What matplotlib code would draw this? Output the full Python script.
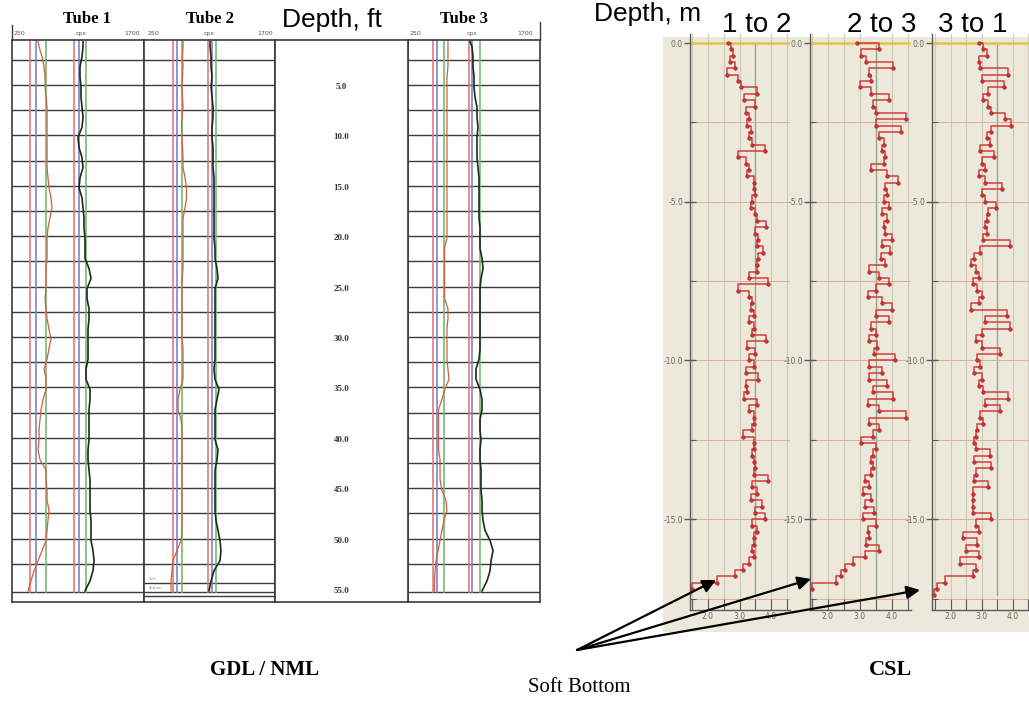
import numpy as np
import matplotlib
matplotlib.use('Agg')
from matplotlib import pyplot as plt
from matplotlib.ticker import FixedLocator, NullFormatter

W, H = 1029, 708

# ---------------- GDL / NML logs (depth in ft, counts in cps) ----------------
LOG_DEPTH_FT = [0.5] + list(range(1, 56))

TUBE1_RED = [536, 547, 580, 602, 613, 613, 624, 635, 635, 635,
             635, 635, 635, 635, 645, 656, 678, 689, 667, 645,
             635, 635, 635, 624, 624, 624, 613, 624, 635, 656,
             678, 656, 635, 602, 624, 624, 591, 569, 558, 547,
             547, 536, 558, 624, 624, 635, 635, 656, 645, 635,
             624, 580, 536, 492, 459, 426]
TUBE1_BLACK = [1030, 1030, 1019, 997, 997, 1008, 1008, 1019, 1030, 1019,
               975, 986, 1019, 1030, 997, 986, 1019, 1030, 1041, 1041,
               1052, 1052, 1052, 1096, 1118, 1074, 1074, 1096, 1096, 1085,
               1085, 1085, 1085, 1063, 1063, 1107, 1107, 1096, 1096, 1096,
               1096, 1085, 1085, 1096, 1107, 1107, 1107, 1107, 1118, 1118,
               1118, 1140, 1151, 1140, 1107, 1052]
TUBE2_RED = [682, 682, 676, 682, 676, 671, 676, 682, 671, 665,
             671, 676, 682, 682, 704, 720, 720, 704, 682, 682,
             682, 682, 682, 682, 671, 671, 671, 671, 671, 671,
             671, 682, 682, 682, 682, 649, 626, 626, 660, 671,
             671, 671, 671, 671, 671, 671, 671, 671, 671, 671,
             660, 615, 571, 560, 549, 549]
TUBE2_BLACK = [981, 981, 992, 992, 1003, 992, 1003, 1014, 1014, 1003,
               1003, 1014, 1014, 1014, 1025, 1025, 1025, 1025, 1025, 1025,
               1025, 1036, 1036, 1058, 1069, 1036, 1036, 1036, 1036, 1036,
               1036, 1036, 1036, 1025, 1036, 1080, 1058, 1036, 1036, 1036,
               1036, 1069, 1058, 1036, 1036, 1036, 1036, 1036, 1047, 1069,
               1091, 1102, 1091, 1025, 992, 970]
TUBE3_RED = [689, 689, 689, 689, 678, 678, 678, 678, 678, 678,
             678, 678, 678, 678, 678, 678, 678, 678, 678, 678,
             678, 651, 651, 651, 651, 651, 651, 689, 689, 678,
             678, 678, 678, 689, 700, 656, 623, 585, 585, 585,
             585, 585, 602, 602, 602, 623, 667, 678, 645, 623,
             602, 580, 558, 547, 541, 541]
TUBE3_BLACK = [931, 953, 964, 964, 975, 975, 986, 1008, 1008, 1019,
               1008, 1008, 1008, 1019, 1030, 1030, 1030, 1030, 1030, 1041,
               1041, 1041, 1063, 1074, 1052, 1041, 1041, 1041, 1041, 1041,
               1041, 1041, 1030, 997, 997, 1041, 1063, 1063, 1041, 1041,
               1052, 1041, 1041, 1052, 1052, 1052, 1063, 1063, 1074, 1096,
               1151, 1184, 1162, 1151, 1118, 1063]

# reference lines: red, blue, green (low), red, blue, green (high)
TUBE1_REF = [448, 510, 620, 931, 986, 1060]
TUBE2_REF = [568, 612, 674, 958, 1002, 1050]
TUBE3_REF = [528, 572, 645, 920, 950, 1041]
REF_COLORS = ['#e07a7a', '#7a86c8', '#78b878'] * 2

DEPTH_LABELS_FT = [5, 10, 15, 20, 25, 30, 35, 40, 45, 50, 55]

# ---------------- CSL profiles (depth in m, FAT) ----------------
CSL_1_TO_2 = [2.65, 2.72, 2.80, 2.70, 2.85, 2.60, 2.95, 3.05, 3.55, 3.15,
              3.50, 3.20, 3.30, 3.25, 3.35, 3.30, 3.40, 3.80, 2.95, 3.20,
              3.30, 3.25, 3.45, 3.45, 3.50, 3.40, 3.35, 3.50, 3.55, 3.85,
              3.50, 3.60, 3.55, 3.75, 3.60, 3.55, 3.55, 3.30, 3.90, 2.95,
              3.30, 3.40, 3.35, 3.45, 3.30, 3.45, 3.40, 3.85, 3.25, 3.50,
              3.30, 3.45, 3.20, 3.60, 3.20, 3.25, 3.15, 3.55, 3.30, 3.45,
              3.45, 3.40, 3.10, 3.45, 3.45, 3.40, 3.45, 3.50, 3.45, 3.90,
              3.40, 3.55, 3.35, 3.70, 3.50, 3.80, 3.40, 3.55, 3.45, 3.45,
              3.40, 3.45, 3.30, 3.10, 2.85, 2.30, 1.50]
CSL_2_TO_3 = [2.90, 3.60, 3.05, 3.20, 4.05, 3.30, 3.35, 3.00, 3.35, 3.90,
              3.40, 3.50, 4.45, 3.50, 4.30, 3.60, 3.75, 3.70, 3.80, 3.75,
              3.35, 3.85, 4.20, 3.80, 3.85, 3.75, 3.90, 3.70, 3.85, 3.75,
              3.80, 4.00, 3.70, 3.95, 3.65, 3.80, 3.30, 3.60, 3.90, 3.50,
              3.25, 3.70, 4.00, 3.50, 3.90, 3.35, 3.50, 3.30, 3.55, 3.45,
              4.10, 3.30, 3.70, 3.30, 3.85, 3.40, 4.05, 3.25, 3.60, 4.45,
              3.30, 3.60, 3.40, 3.05, 3.50, 3.40, 3.35, 3.40, 3.35, 3.15,
              3.30, 3.10, 3.35, 3.15, 3.45, 3.10, 3.50, 3.25, 3.30, 3.20,
              3.60, 3.15, 2.80, 2.55, 2.40, 2.25, 1.50]
CSL_3_TO_1 = [2.90, 3.05, 3.15, 2.90, 2.95, 3.85, 3.00, 3.70, 3.20, 3.05,
              3.20, 3.30, 3.75, 3.95, 3.30, 3.15, 3.25, 2.95, 3.40, 3.00,
              3.10, 2.90, 3.10, 3.65, 3.00, 3.10, 3.45, 3.20, 3.15, 3.10,
              3.15, 3.05, 3.90, 2.95, 2.75, 2.65, 2.80, 2.90, 2.70, 2.85,
              3.00, 2.90, 2.65, 3.80, 3.10, 3.90, 3.00, 2.80, 3.00, 3.60,
              2.85, 2.95, 2.75, 3.00, 2.90, 3.05, 3.85, 3.10, 3.60, 2.95,
              3.05, 2.85, 2.80, 2.75, 2.80, 3.25, 2.75, 3.30, 2.80, 2.75,
              3.20, 2.72, 2.72, 2.72, 2.72, 3.30, 2.80, 2.90, 2.40, 2.85,
              2.50, 2.90, 2.30, 2.80, 2.70, 1.80, 1.55, 1.45]
CSL_STEP_M = 0.2
CSL_NAMES = ['1 to 2', '2 to 3', '3 to 1']

SERIF = 'Liberation Serif'
SANS = 'Liberation Sans'

fig = plt.figure(figsize=(W / 100, H / 100), dpi=100)
fig.patch.set_facecolor('white')


def px_axes(x0, y0, x1, y1, **kw):
    return fig.add_axes([x0 / W, 1 - y1 / H, (x1 - x0) / W, (y1 - y0) / H], **kw)


def bare(ax, color='#3a3a3a', lw=1.2):
    ax.set_xticks([])
    ax.set_yticks([])
    for s in ax.spines.values():
        s.set_color(color)
        s.set_linewidth(lw)


# ---------------- left block: GDL / NML ----------------
DEPTH_TOP, DEPTH_BOT = 0.34, 56.1
GRID_FT = list(np.arange(2.3, 53, 2.5)) + [55.1]


def draw_tube(x0, x1, ref, red, black, extra=()):
    ax = px_axes(x0, 40, x1, 602)
    ax.set_xlim(250, 1700)
    ax.set_ylim(DEPTH_BOT, DEPTH_TOP)
    for d in GRID_FT + list(extra):
        ax.axhline(d, color='#3a3a3a', lw=1.0)
    for v, c in zip(ref, REF_COLORS):
        ax.plot([v, v], [DEPTH_TOP, 55.1], color=c, lw=1.2)
    ax.plot(red, LOG_DEPTH_FT, color='#cf5f3a', lw=0.9)
    ax.plot(black, LOG_DEPTH_FT, color='#1c2a1c', lw=1.2)
    bare(ax)
    return ax


draw_tube(12, 144, TUBE1_REF, TUBE1_RED, TUBE1_BLACK)
ax2 = draw_tube(144, 275, TUBE2_REF, TUBE2_RED, TUBE2_BLACK, extra=(54.2, 55.5))
ax2.text(300, 54.0, 'Soft', fontsize=2.5, color='#888', va='bottom')
ax2.text(300, 54.9, 'Bottom', fontsize=2.5, color='#888', va='bottom')
draw_tube(408, 540, TUBE3_REF, TUBE3_RED, TUBE3_BLACK)

axd = px_axes(275, 40, 408, 602)
axd.set_xlim(0, 1)
axd.set_ylim(DEPTH_BOT, DEPTH_TOP)
for d in DEPTH_LABELS_FT:
    axd.text(0.5, d, f'{d:.1f}', ha='center', va='center', fontsize=6.5,
             fontweight='bold', family=SERIF, color='#333')
bare(axd)

# ---------------- right block: CSL ----------------
bg = px_axes(663, 37, 1029, 632)
bg.set_facecolor('#ece9db')
bare(bg)
for s in bg.spines.values():
    s.set_visible(False)

CSL_TRACKS = [(690, 790, 1.43, 4.6), (810, 911, 1.44, 4.6), (932, 1029, 1.39, 4.52)]
for (x0, x1, lo, hi), vals in zip(CSL_TRACKS, [CSL_1_TO_2, CSL_2_TO_3, CSL_3_TO_1]):
    ax = px_axes(x0, 33.5, x1, 609.7)
    ax.set_facecolor('none')
    ax.set_xlim(lo, hi)
    ax.set_ylim(-17.85, 0.3)
    depth = -CSL_STEP_M * np.arange(len(vals))
    for g in np.arange(1.5, 4.6, 0.5):
        if abs(g - 3.5) < 1e-6:
            ax.plot([g, g], [0, -17.4], color='#8fa88f', lw=1.0, zorder=1)
        else:
            ax.axvline(g, color='#cdc8b8', lw=0.8, zorder=1)
    for r in np.arange(-2.5, -18, -2.5):
        ax.axhline(r, color='#e3a6a0', lw=0.7, zorder=1)
    ax.axhline(0, color='#e6c34a', lw=1.8, zorder=2)
    ax.plot(vals, depth, drawstyle='steps-post', color='#d43c3c', lw=1.1, zorder=3)
    ax.plot(vals, depth, 'o', ms=2.6, mfc='#cc3434', mec='#a82222', mew=0.4, zorder=4)
    for side in ('top', 'right'):
        ax.spines[side].set_visible(False)
    for side in ('left', 'bottom'):
        ax.spines[side].set_color('#5a5a5a')
        ax.spines[side].set_linewidth(1.0)
    ax.yaxis.set_major_locator(FixedLocator([0, -5, -10, -15]))
    ax.yaxis.set_minor_locator(FixedLocator([-2.5, -7.5, -12.5, -17.5]))
    ax.set_yticklabels(['0.0', '-5.0', '-10.0', '-15.0'])
    ax.xaxis.set_major_locator(FixedLocator([2.0, 3.0, 4.0]))
    ax.xaxis.set_minor_locator(FixedLocator([1.5, 2.5, 3.5, 4.5]))
    ax.xaxis.set_minor_formatter(NullFormatter())
    ax.set_xticklabels(['2.0', '3.0', '4.0'])
    ax.tick_params(axis='y', which='major', direction='inout', length=8,
                   width=1, color='#5a5a5a', labelsize=5.5, labelcolor='#666', pad=1)
    ax.tick_params(axis='y', which='minor', direction='in', length=4,
                   width=0.8, color='#5a5a5a')
    ax.tick_params(axis='x', which='both', direction='in', length=8,
                   width=0.8, color='#5a5a5a', labelsize=5.5, labelcolor='#666', pad=2)

# ---------------- texts and arrows ----------------
ov = px_axes(0, 0, W, H)
ov.set_xlim(0, W)
ov.set_ylim(H, 0)
ov.axis('off')

for x, name in [(87, 'Tube 1'), (210, 'Tube 2'), (464, 'Tube 3')]:
    ov.text(x, 23, name, ha='center', va='baseline', fontsize=12,
            fontweight='bold', family=SERIF)
for x250, xcps, x1700 in [(13, 81, 140), (148, 209, 273), (410, 472, 533)]:
    ov.text(x250, 33.5, '250', ha='left', va='center', fontsize=4.5, color='#555')
    ov.text(xcps, 33.5, 'cps', ha='center', va='center', fontsize=4.5, color='#555')
    ov.text(x1700, 33.5, '1700', ha='right', va='center', fontsize=4.5, color='#555')
ov.plot([12, 12], [25, 40], color='#3a3a3a', lw=1.0)
ov.plot([540, 540], [22, 40], color='#3a3a3a', lw=1.0)

ov.text(282, 27, 'Depth, ft', ha='left', va='baseline', fontsize=19, family=SANS)
ov.text(594, 21, 'Depth, m', ha='left', va='baseline', fontsize=19, family=SANS)
for x, name in zip([722, 847, 938], CSL_NAMES):
    ov.text(x, 32, name, ha='left', va='baseline', fontsize=20, family=SANS)

ov.text(265, 675, 'GDL / NML', ha='center', va='baseline', fontsize=15,
        fontweight='bold', family=SERIF)
ov.text(891, 675, 'CSL', ha='center', va='baseline', fontsize=16,
        fontweight='bold', family=SERIF)
ov.text(579, 692, 'Soft Bottom', ha='center', va='baseline', fontsize=15, family=SERIF)

for tip in [(716, 580), (811, 579), (920, 590)]:
    ov.annotate('', xy=tip, xytext=(577, 650),
                arrowprops=dict(arrowstyle='-|>', color='black', lw=1.6,
                                mutation_scale=20, shrinkA=0, shrinkB=0))

fig.savefig('out.png', dpi=100, facecolor='white')
